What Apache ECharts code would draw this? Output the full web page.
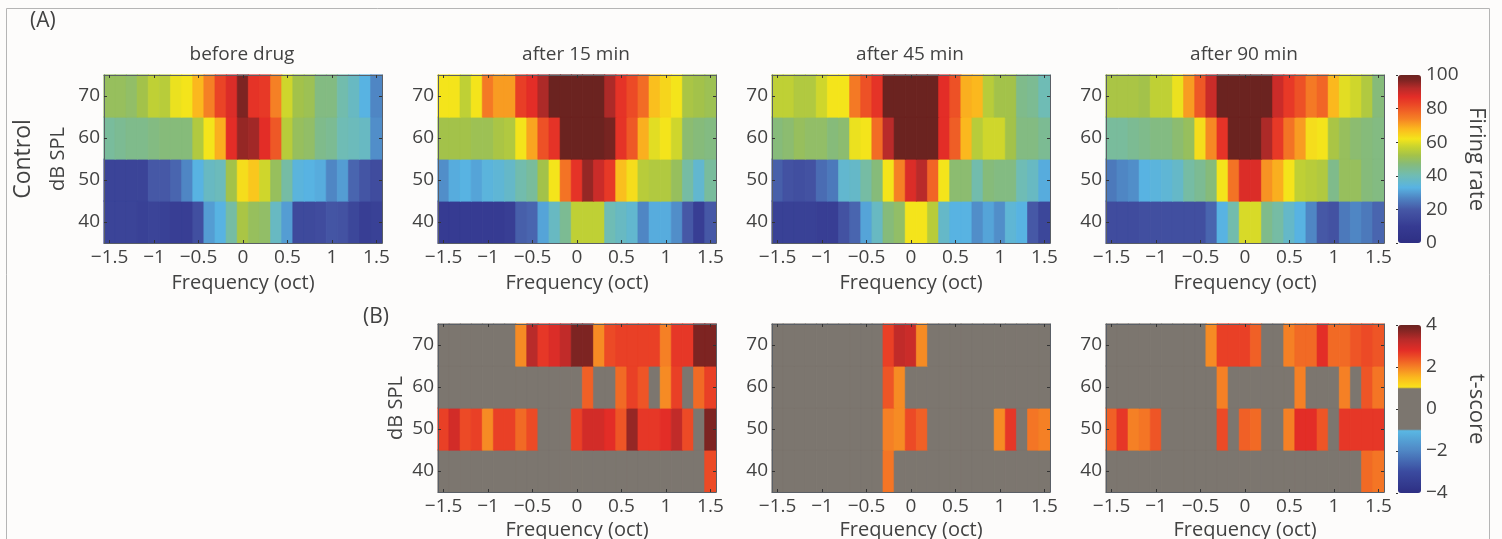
<!DOCTYPE html>
<html>
<head>
<meta charset="utf-8">
<script src="https://cdn.jsdelivr.net/npm/echarts@6/dist/echarts.min.js"></script>
<style>
  html, body { margin: 0; padding: 0; background: #fdfcfb; }
  #main { width: 1502px; height: 539px; }
</style>
</head>
<body>
<div id="main"></div>
<script>
const freqBins = ['−1.5','−1.375','−1.25','−1.125','−1','−0.875','−0.75','−0.625','−0.5','−0.375','−0.25','−0.125','0',
  '0.125','0.25','0.375','0.5','0.625','0.75','0.875','1','1.125','1.25','1.375','1.5'];
const levels = ['40','50','60','70'];
const titles = ['before drug','after 15 min','after 45 min','after 90 min'];

// firing rate, one row per level (40, 50, 60, 70 dB)
const beforeDrug = [
  [13,13,13,12,13,12,11,11,17,30,33,42,53,50,49,38,30,15,15,16,19,18,14,11,12],
  [13,13,13,13,20,20,22,27,33,38,39,52,63,66,58,50,42,34,33,32,27,30,22,19,16],
  [43,44,45,45,46,47,47,47,54,62,69,87,95,94,87,80,55,50,49,45,44,40,39,38,28],
  [50,50,49,52,56,55,61,62,68,74,83,88,97,86,85,74,58,52,51,46,46,41,38,33,27]
];
const after15 = [
  [10,10,10,10,10,10,11,21,22,31,38,44,56,56,56,40,38,36,27,32,32,28,20,11,20],
  [28,32,33,31,34,35,37,41,43,52,62,76,86,95,90,85,67,63,55,54,54,50,42,36,43],
  [52,52,52,51,51,53,54,62,70,81,86,100,100,100,100,98,86,80,69,60,62,58,48,47,46],
  [62,62,56,62,75,71,71,84,87,93,100,100,100,100,100,93,86,82,77,67,64,62,53,52,51]
];
const after45 = [
  [12,12,12,12,11,11,18,22,31,38,47,49,62,62,55,37,33,33,28,31,28,35,33,20,14],
  [21,18,17,18,23,25,36,37,42,47,62,74,88,92,78,62,48,48,41,47,46,46,40,38,32],
  [47,48,50,49,49,47,48,61,62,77,92,100,100,100,100,87,79,68,55,58,58,52,46,46,44],
  [56,56,54,54,58,62,62,75,81,86,100,100,100,100,100,87,81,69,68,55,52,52,45,44,40]
];
const after90 = [
  [16,16,16,17,17,17,17,17,17,22,33,41,59,59,45,42,37,33,27,20,18,25,27,25,22],
  [25,27,28,33,34,35,37,42,44,47,62,76,88,88,72,69,62,56,55,54,45,50,50,47,46],
  [43,43,44,45,46,46,48,50,63,73,86,100,100,100,93,85,76,71,63,62,53,50,48,47,46],
  [53,53,53,52,56,56,61,71,80,90,100,100,100,100,100,90,85,81,75,78,68,60,58,54,47]
];

// t-score, same layout; 0 means not significant (grey)
const tAfter15 = [
  [0,0,0,0,0,0,0,0,0,0,0,0,0,0,0,0,0,0,0,0,0,0,0,0,2.5],
  [2.6,3.0,2.5,2.6,1.9,2.6,2.6,2.2,2.5,0,0,0,2.6,3.0,3.0,2.8,2.4,3.6,2.7,2.7,2.8,3.2,2.5,0,3.8],
  [0,0,0,0,0,0,0,0,0,0,0,0,0,2.3,0,0,2.2,2.6,2.4,0,1.9,2.6,0,2.2,2.6],
  [0,0,0,0,0,0,0,1.9,3.3,2.7,2.9,3.2,3.8,3.8,1.9,2.5,2.6,2.6,2.6,2.6,2.0,2.7,2.7,3.8,3.8]
];
const tAfter45 = [
  [0,0,0,0,0,0,0,0,0,0,2.1,0,0,0,0,0,0,0,0,0,0,0,0,0,0],
  [0,0,0,0,0,0,0,0,0,0,2.0,1.9,2.5,2.3,0,0,0,0,0,0,1.9,2.7,0,2.1,2.0],
  [0,0,0,0,0,0,0,0,0,0,2.4,1.9,0,0,0,0,0,0,0,0,0,0,0,0,0],
  [0,0,0,0,0,0,0,0,0,0,2.6,3.2,3.1,1.9,0,0,0,0,0,0,0,0,0,0,0]
];
const tAfter90 = [
  [0,0,0,0,0,0,0,0,0,0,0,0,0,0,0,0,0,0,0,0,0,0,0,2.2,2.1],
  [2.3,2.7,2.0,2.1,2.4,0,0,0,0,0,2.5,0,2.3,2.2,0,0,2.0,2.8,2.8,2.4,0,2.7,2.7,2.7,2.7],
  [0,0,0,0,0,0,0,0,0,0,2.0,0,0,0,0,0,0,2.0,0,0,0,2.0,0,2.4,2.1],
  [0,0,0,0,0,0,0,0,0,1.9,2.6,2.6,2.6,2.3,0,0,2.0,2.2,2.2,2.8,2.2,2.2,2.4,2.5,2.4]
];

const firingStops = [[0,'#2e2f83'],[10,'#363b92'],[20,'#4658a6'],[27,'#4f86c4'],[33,'#58b3e2'],[40,'#6fbcb5'],[47,'#86bb7a'],
  [52,'#a3c24a'],[57,'#c6d330'],[62,'#f4e41b'],[68,'#fbb81e'],[74,'#f58025'],[82,'#ec4a26'],[87,'#e32d27'],[92,'#b92b2a'],[97,'#7d2422'],[100,'#6b2320']];
const tStops = [[-4,'#2e2f83'],[-3,'#3a4a9f'],[-2,'#4f86c4'],[-1,'#5ab9e4'],[-0.99,'#7c766f'],[0.99,'#7c766f'],[1,'#fbe51b'],
  [1.5,'#fbb81e'],[2,'#f58025'],[2.5,'#ec4a26'],[2.8,'#e32d27'],[3.3,'#b92b2a'],[3.8,'#7d2422'],[4,'#6b2320']];

const textColor = '#424242';
const font = '"Open Sans"';

function colorAt(stops, v) {
  let k = 0;
  while (k < stops.length - 2 && v > stops[k + 1][0]) k++;
  let f = (v - stops[k][0]) / (stops[k + 1][0] - stops[k][0]);
  return echarts.color.lerp(Math.min(Math.max(f, 0), 1), [stops[k][1], stops[k + 1][1]]);
}

// visualMap only takes evenly spaced colours, so resample the stops
function ramp(stops, n) {
  let out = [];
  let lo = stops[0][0], hi = stops[stops.length - 1][0];
  for (let i = 0; i <= n; i++) out.push(colorAt(stops, lo + (hi - lo) * i / n));
  return out;
}

// the thin border of the cell's own colour closes the seams between cells
function cells(rows, stops) {
  let out = [];
  rows.forEach((row, y) => row.forEach((v, x) => {
    out.push({ value: [x, y, v], itemStyle: { borderWidth: 0.6, borderColor: colorAt(stops, v) } });
  }));
  return out;
}

let grids = [], xAxes = [], yAxes = [], series = [], titleList = [];

function addPanel(left, top, rows, stops, yName, yGap, xGap) {
  const w = 278, h = 168;
  const g = grids.length;
  // outerBoundsMode none: the last row's axis names sit close to the page edge, don't let the grid shrink
  grids.push({ left: left, top: top, width: w, height: h, outerBoundsMode: 'none' });
  const line = { show: true, lineStyle: { color: '#5a5f66', width: 1 } };
  const tick = { show: true, inside: true, length: 3, alignWithLabel: true, lineStyle: { color: '#333' } };
  const xi = xAxes.length, yi = yAxes.length;
  xAxes.push({
    type: 'category', gridIndex: g, data: freqBins, position: 'bottom', z: 5,
    axisLine: line, axisTick: Object.assign({ interval: 3 }, tick),
    axisLabel: { interval: 3, color: textColor, fontSize: 19, fontFamily: font, margin: 5 },
    name: 'Frequency (oct)', nameLocation: 'middle', nameGap: xGap,
    nameTextStyle: { color: textColor, fontSize: 20, fontFamily: font }
  });
  xAxes.push({
    type: 'category', gridIndex: g, data: freqBins, position: 'top', z: 5,
    axisLine: line, axisTick: Object.assign({ interval: 3 }, tick), axisLabel: { show: false }
  });
  yAxes.push({
    type: 'category', gridIndex: g, data: levels, position: 'left', z: 5,
    axisLine: line, axisTick: tick,
    axisLabel: { color: textColor, fontSize: 19, fontFamily: font, margin: 4 },
    name: yName, nameLocation: 'middle', nameGap: yGap, nameRotate: 90,
    nameTextStyle: { color: textColor, fontSize: 20, fontFamily: font }
  });
  yAxes.push({
    type: 'category', gridIndex: g, data: levels, position: 'right', z: 5,
    axisLine: line, axisTick: tick, axisLabel: { show: false }
  });
  series.push({
    type: 'heatmap', xAxisIndex: xi, yAxisIndex: yi, data: cells(rows, stops), silent: true,
    progressive: 0, animation: false
  });
  return series.length - 1;
}

function addColorBar(top, min, max, interval, name) {
  const g = grids.length;
  grids.push({ left: 1398, top: top, width: 23, height: 168, outerBoundsMode: 'none' });
  xAxes.push({ type: 'value', gridIndex: g, show: false, min: 0, max: 1 });
  yAxes.push({
    type: 'value', gridIndex: g, position: 'right', min: min, max: max, interval: interval, z: 5,
    splitLine: { show: false },
    axisLine: { show: false },
    axisTick: { show: true, inside: true, length: 2, lineStyle: { color: '#333' } },
    axisLabel: {
      color: textColor, fontSize: 19, fontFamily: font, margin: 5,
      formatter: v => String(v).replace('-', '−')
    },
    name: name, nameLocation: 'middle', nameGap: 44, nameRotate: -90,
    nameTextStyle: { color: textColor, fontSize: 22, fontFamily: font }
  });
}

const lefts = [104, 438, 772, 1106];
const topA = 75, topB = 324;

let firingSeries = [beforeDrug, after15, after45, after90].map((rows, i) => addPanel(lefts[i], topA, rows, firingStops, i === 0 ? 'dB SPL' : '', 36, 30));
let tSeries = [tAfter15, tAfter45, tAfter90].map((rows, i) => addPanel(lefts[i + 1], topB, rows, tStops, i === 0 ? 'dB SPL' : '', 32, 28));
addColorBar(topA, 0, 100, 20, 'Firing rate');
addColorBar(topB + 1, -4, 4, 2, 't-score');

titles.forEach((t, i) => {
  titleList.push({
    text: t, left: lefts[i] + 133, top: 40, textAlign: 'center',
    textStyle: { color: textColor, fontSize: 19, fontWeight: 'normal', fontFamily: font }
  });
});

const chart = echarts.init(document.getElementById('main'), null, { renderer: 'canvas' });
chart.setOption({
  animation: false,
  backgroundColor: '#fdfcfb',
  title: titleList,
  grid: grids,
  xAxis: xAxes,
  yAxis: yAxes,
  series: series,
  visualMap: [
    {
      type: 'continuous', min: 0, max: 100, seriesIndex: firingSeries, left: 1398, top: topA, padding: 0,
      itemWidth: 23, itemHeight: 168, calculable: false, hoverLink: false, text: null,
      inRange: { color: ramp(firingStops, 100) }
    },
    {
      type: 'continuous', min: -4, max: 4, seriesIndex: tSeries, left: 1398, top: topB + 1, padding: 0,
      itemWidth: 23, itemHeight: 168, calculable: false, hoverLink: false, text: null,
      inRange: { color: ramp(tStops, 200) }
    }
  ],
  graphic: [
    { type: 'rect', silent: true, z: -1, shape: { x: 6.5, y: 8.5, width: 1483, height: 560 }, style: { fill: 'none', stroke: '#b5b5b5', lineWidth: 1 } },
    { type: 'text', left: 30, top: 11, style: { text: '(A)', fill: textColor, fontSize: 21, fontFamily: font } },
    { type: 'text', left: 363, top: 307, style: { text: '(B)', fill: textColor, fontSize: 21, fontFamily: font } },
    { type: 'text', x: 23, y: 159, rotation: Math.PI / 2, style: { text: 'Control', fill: textColor, fontSize: 23, fontFamily: font, align: 'center', verticalAlign: 'middle' } }
  ]
});
</script>
</body>
</html>
